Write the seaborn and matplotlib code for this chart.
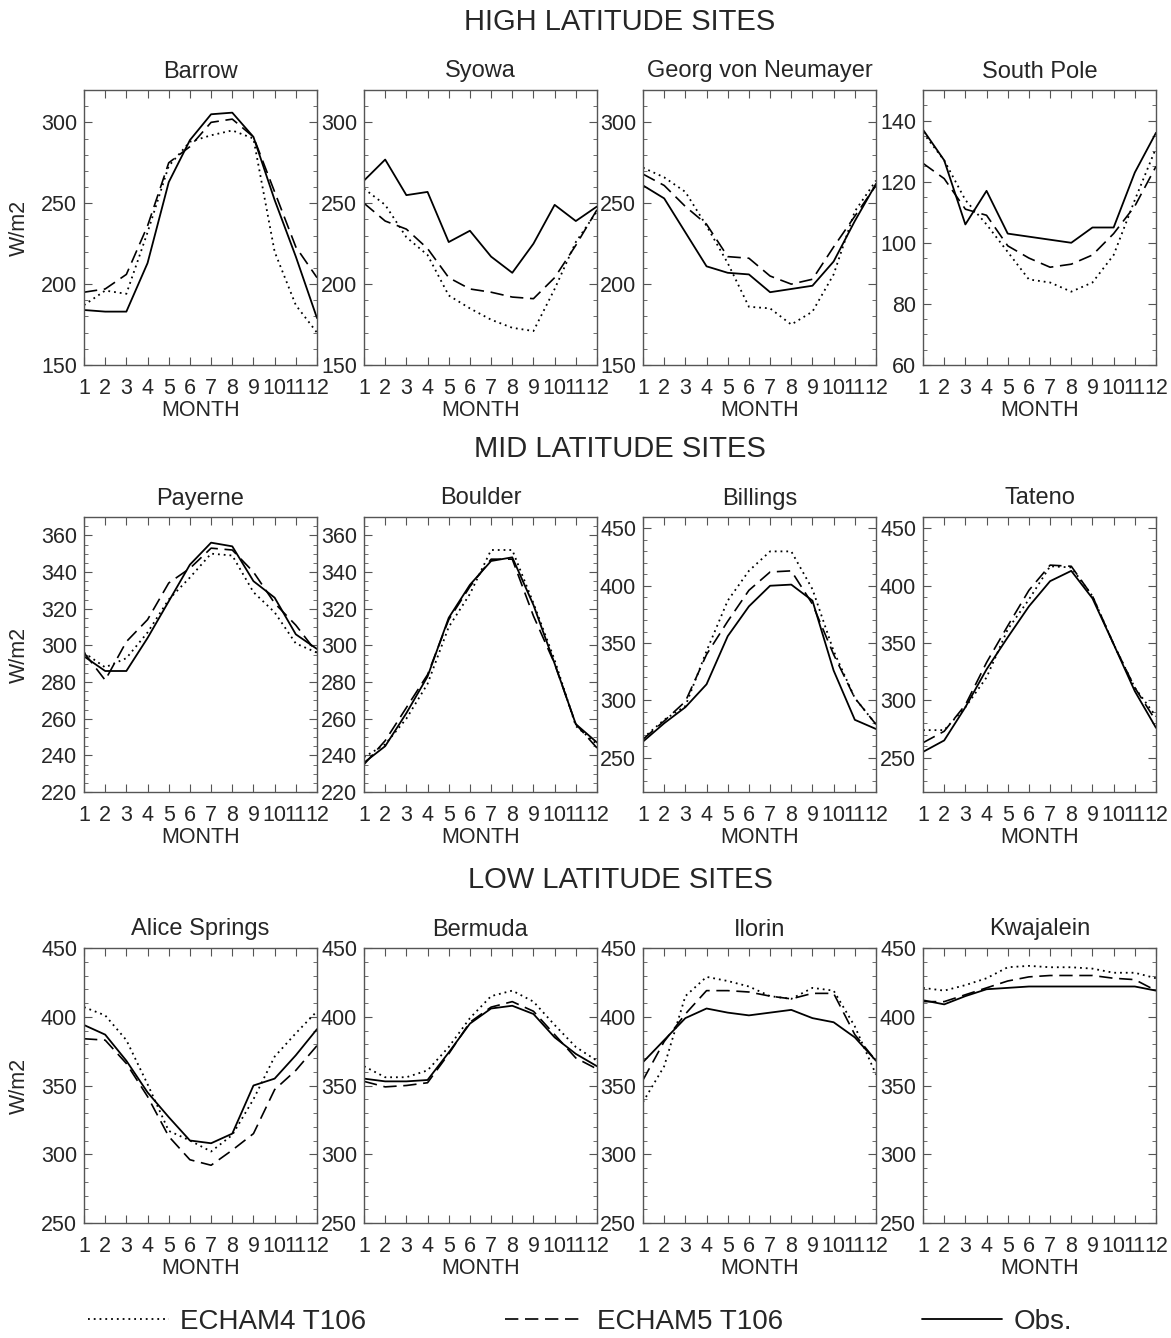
import numpy as np
import matplotlib
matplotlib.use('Agg')
import matplotlib.pyplot as plt
from matplotlib.ticker import MultipleLocator
import seaborn as sns

sns.set_style('ticks')
plt.rcParams['font.family'] = ['Liberation Sans', 'DejaVu Sans']

months = list(range(1, 13))

# --- values (W/m2) ---
barrow_e4 = [187, 196, 194, 232, 273, 288, 292, 295, 290, 220, 187, 170]
barrow_e5 = [195, 197, 206, 236, 275, 285, 300, 302, 291, 257, 223, 204]
barrow_obs = [184, 183, 183, 213, 263, 289, 305, 306, 291, 252, 217, 179]

syowa_e4 = [259, 249, 229, 218, 193, 185, 178, 173, 171, 197, 226, 245]
syowa_e5 = [250, 239, 234, 222, 204, 197, 195, 192, 191, 204, 224, 246]
syowa_obs = [264, 277, 255, 257, 226, 233, 217, 207, 225, 249, 239, 248]

neum_e4 = [272, 266, 257, 236, 213, 186, 185, 175, 183, 206, 245, 264]
neum_e5 = [268, 261, 248, 237, 217, 216, 205, 200, 203, 223, 242, 261]
neum_obs = [261, 253, 232, 211, 207, 206, 195, 197, 199, 214, 239, 262]

spole_e4 = [136, 127, 114, 106, 97, 88, 87, 84, 87, 96, 114, 131]
spole_e5 = [126, 121, 111, 109, 99, 95, 92, 93, 96, 103, 112, 125]
spole_obs = [137, 127, 106, 117, 103, 102, 101, 100, 105, 105, 123, 136]

payerne_e4 = [296, 288, 293, 307, 325, 337, 350, 349, 329, 318, 301, 296]
payerne_e5 = [296, 281, 302, 314, 334, 342, 353, 352, 340, 323, 311, 296]
payerne_obs = [294, 286, 286, 304, 324, 344, 356, 354, 335, 326, 306, 298]

boulder_e4 = [239, 246, 260, 279, 310, 328, 352, 352, 323, 292, 256, 246]
boulder_e5 = [235, 248, 266, 284, 314, 332, 347, 347, 316, 290, 257, 244]
boulder_obs = [236, 245, 263, 283, 315, 333, 346, 348, 322, 290, 257, 247]

billings_e4 = [267, 283, 295, 343, 387, 413, 430, 430, 397, 343, 302, 279]
billings_e5 = [266, 282, 299, 340, 369, 396, 412, 413, 384, 340, 302, 279]
billings_obs = [264, 280, 294, 314, 356, 382, 400, 401, 387, 326, 283, 275]

tateno_e4 = [274, 274, 294, 320, 362, 388, 417, 416, 391, 349, 311, 286]
tateno_e5 = [263, 273, 296, 333, 365, 396, 418, 417, 391, 349, 311, 282]
tateno_obs = [255, 265, 294, 327, 355, 382, 404, 413, 389, 349, 308, 276]

alice_e4 = [407, 401, 383, 351, 317, 310, 302, 314, 340, 371, 388, 404]
alice_e5 = [384, 383, 366, 342, 313, 296, 292, 303, 315, 347, 361, 379]
alice_obs = [394, 387, 368, 345, 327, 310, 308, 315, 350, 355, 372, 391]

bermuda_e4 = [364, 356, 356, 361, 378, 399, 415, 419, 411, 394, 378, 368]
bermuda_e5 = [353, 349, 350, 352, 373, 396, 407, 411, 404, 387, 370, 362]
bermuda_obs = [355, 353, 353, 354, 374, 395, 406, 408, 402, 385, 373, 364]

ilorin_e4 = [338, 364, 415, 429, 426, 422, 415, 413, 421, 419, 393, 358]
ilorin_e5 = [354, 382, 402, 419, 419, 418, 415, 413, 417, 417, 387, 368]
ilorin_obs = [367, 383, 399, 406, 403, 401, 403, 405, 399, 396, 385, 368]

kwaj_e4 = [421, 419, 423, 428, 436, 437, 436, 436, 435, 432, 432, 428]
kwaj_e5 = [411, 411, 416, 421, 426, 429, 430, 430, 430, 428, 427, 419]
kwaj_obs = [412, 409, 415, 420, 421, 422, 422, 422, 422, 422, 422, 419]

sites = [
    ('Barrow', barrow_e4, barrow_e5, barrow_obs, (150, 320), 50, 10),
    ('Syowa', syowa_e4, syowa_e5, syowa_obs, (150, 320), 50, 10),
    ('Georg von Neumayer', neum_e4, neum_e5, neum_obs, (150, 320), 50, 10),
    ('South Pole', spole_e4, spole_e5, spole_obs, (60, 150), 20, 5),
    ('Payerne', payerne_e4, payerne_e5, payerne_obs, (220, 370), 20, 5),
    ('Boulder', boulder_e4, boulder_e5, boulder_obs, (220, 370), 20, 5),
    ('Billings', billings_e4, billings_e5, billings_obs, (220, 460), 50, 10),
    ('Tateno', tateno_e4, tateno_e5, tateno_obs, (220, 460), 50, 10),
    ('Alice Springs', alice_e4, alice_e5, alice_obs, (250, 450), 50, 10),
    ('Bermuda', bermuda_e4, bermuda_e5, bermuda_obs, (250, 450), 50, 10),
    ('Ilorin', ilorin_e4, ilorin_e5, ilorin_obs, (250, 450), 50, 10),
    ('Kwajalein', kwaj_e4, kwaj_e5, kwaj_obs, (250, 450), 50, 10),
]
row_titles = ['HIGH LATITUDE SITES', 'MID LATITUDE SITES', 'LOW LATITUDE SITES']

W, H = 1171, 1338
fig = plt.figure(figsize=(W / 100, H / 100), dpi=100)

col_left = [84, 364, 643, 923]
ax_w = 233
row_top = [90, 517, 948]
ax_h = 275

dot = (0, (1, 2.2))
dash = (0, (8, 4))
frame = '#555555'
for i, (name, e4, e5, obs, ylim, major, minor) in enumerate(sites):
    r, c = divmod(i, 4)
    ax = fig.add_axes([col_left[c] / W, 1 - (row_top[r] + ax_h) / H, ax_w / W, ax_h / H])
    sns.lineplot(x=months, y=e4, ax=ax, color='black', lw=1.3, linestyle=dot)
    sns.lineplot(x=months, y=e5, ax=ax, color='black', lw=1.2, linestyle=dash)
    sns.lineplot(x=months, y=obs, ax=ax, color='black', lw=1.3)
    ax.set_xlim(1, 12)
    ax.set_ylim(*ylim)
    ax.set_xticks(months)
    ax.yaxis.set_major_locator(MultipleLocator(major))
    ax.yaxis.set_minor_locator(MultipleLocator(minor))
    ax.tick_params(which='both', direction='in', top=True, right=True,
                   color=frame, labelsize=15.5, pad=5)
    ax.tick_params(which='major', length=6)
    ax.tick_params(which='minor', length=3)
    ax.tick_params(axis='x', pad=9)
    for s in ax.spines.values():
        s.set_color(frame)
        s.set_linewidth(1.0)
    ax.set_xlabel('MONTH', fontsize=15.5, labelpad=1)
    ax.set_ylabel('W/m2' if c == 0 else '', fontsize=15.5, labelpad=8)
    ax.set_title(name, fontsize=17, pad=9)

for r, t in enumerate(row_titles):
    fig.text(620 / W, 1 - (row_top[r] - 68) / H, t, ha='center', va='center', fontsize=21)

handles = [
    plt.Line2D([], [], color='black', lw=1.3, linestyle=dot),
    plt.Line2D([], [], color='black', lw=1.2, linestyle=dash),
    plt.Line2D([], [], color='black', lw=1.3),
]
fig.legend(handles, ['ECHAM4 T106', 'ECHAM5 T106', 'Obs.'], loc='center',
           bbox_to_anchor=(580 / W, 1 - 1322 / H), ncol=3, frameon=False,
           fontsize=20, handlelength=2.9, handletextpad=0.4, columnspacing=5.0)

fig.savefig('out.png', dpi=100, facecolor='white')
